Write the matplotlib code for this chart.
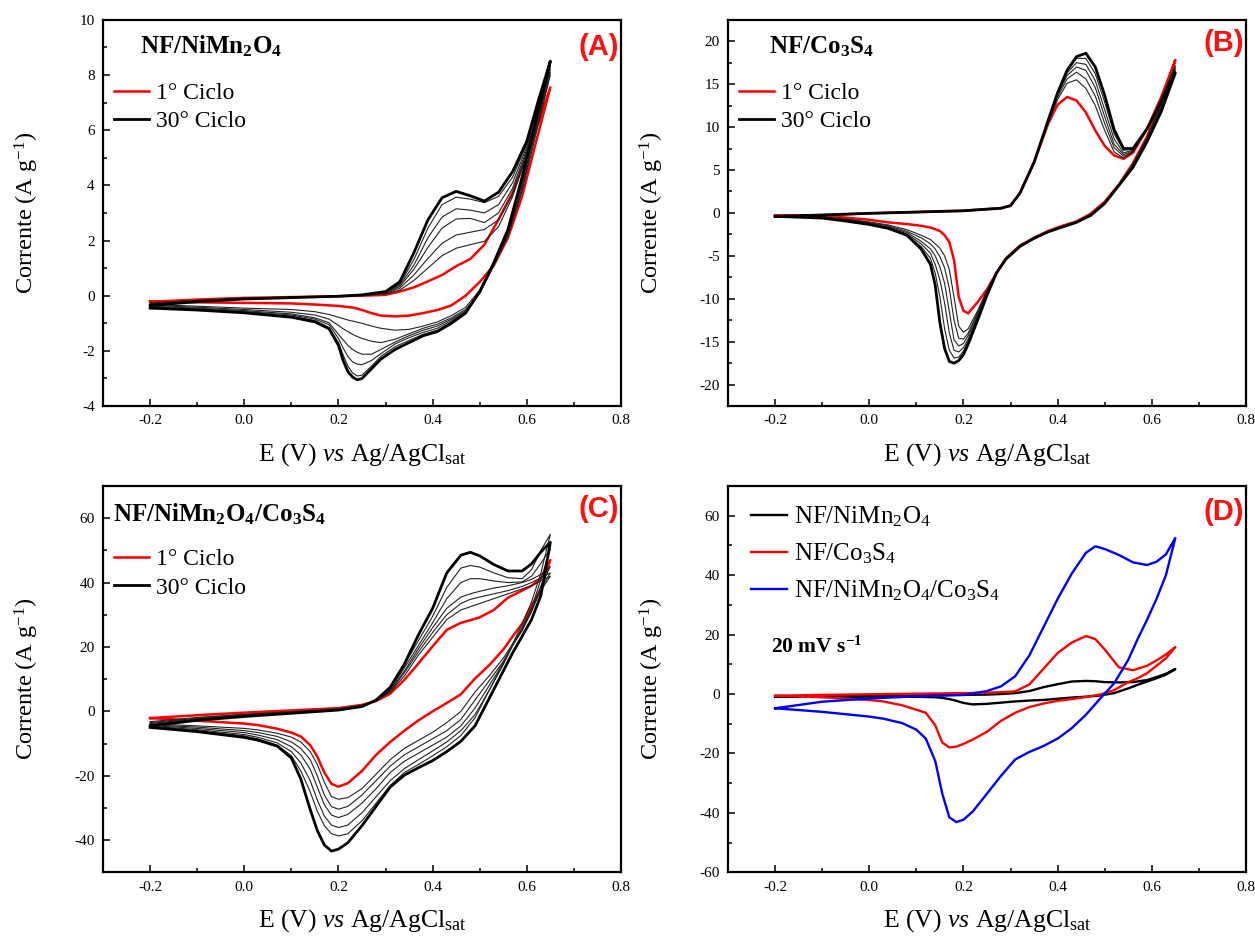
import numpy as np
import matplotlib
matplotlib.use('Agg')
import matplotlib.pyplot as plt
from matplotlib.ticker import MultipleLocator, FormatStrFormatter

plt.rcParams['font.family'] = 'Liberation Serif'
plt.rcParams['mathtext.fontset'] = 'custom'
plt.rcParams['mathtext.rm'] = 'Liberation Serif'
plt.rcParams['mathtext.it'] = 'Liberation Serif:italic'
plt.rcParams['mathtext.bf'] = 'Liberation Serif:bold'
plt.rcParams['axes.unicode_minus'] = False

# ---------------- (A) NF/NiMn2O4, cycles 1 -> 30
a_e_fwd = [-0.2, -0.1, 0.0, 0.1, 0.2, 0.25, 0.3, 0.33, 0.36, 0.39, 0.42, 0.45, 0.48, 0.51, 0.54, 0.57, 0.6, 0.625, 0.65]
a_e_rev = [0.65, 0.62, 0.59, 0.56, 0.53, 0.5, 0.47, 0.44, 0.41, 0.38, 0.35, 0.32, 0.29, 0.27, 0.25, 0.24, 0.23, 0.22,
           0.21, 0.2, 0.18, 0.15, 0.1, 0.0, -0.1, -0.2]
a_first_fwd = [-0.22, -0.14, -0.08, -0.05, -0.02, 0.0, 0.03, 0.15, 0.3, 0.52, 0.75, 1.07, 1.33, 1.85, 2.76, 3.75, 5.1, 6.3, 7.55]
a_first_rev = [7.55, 5.6, 3.6, 2.1, 1.1, 0.5, 0.0, -0.35, -0.52, -0.63, -0.72, -0.75, -0.72, -0.63, -0.52, -0.47, -0.43,
               -0.41, -0.39, -0.37, -0.35, -0.32, -0.28, -0.26, -0.24, -0.22]
a_mid_fwd = [
    [-0.33, -0.21, -0.12, -0.07, -0.02, 0.03, 0.13, 0.42, 1.3, 2.45, 3.3, 3.57, 3.5, 3.37, 3.6, 4.3, 5.5, 7.0, 8.4],
    [-0.32, -0.2, -0.11, -0.06, -0.02, 0.02, 0.12, 0.38, 1.1, 2.1, 2.85, 3.15, 3.1, 3.0, 3.3, 4.1, 5.4, 6.9, 8.3],
    [-0.3, -0.19, -0.1, -0.06, -0.02, 0.02, 0.1, 0.33, 0.95, 1.75, 2.45, 2.78, 2.8, 2.65, 3.0, 3.9, 5.3, 6.8, 8.2],
    [-0.28, -0.18, -0.1, -0.06, -0.02, 0.01, 0.08, 0.27, 0.75, 1.35, 1.9, 2.2, 2.3, 2.4, 2.75, 3.7, 5.2, 6.7, 8.1],
    [-0.26, -0.17, -0.09, -0.05, -0.02, 0.01, 0.06, 0.2, 0.55, 1.0, 1.45, 1.72, 1.85, 1.97, 2.5, 3.6, 5.1, 6.6, 8.0],
]
a_mid_rev = [
    [8.4, 6.3, 4.2, 2.35, 1.15, 0.12, -0.6, -0.95, -1.25, -1.4, -1.62, -1.85, -2.2, -2.55, -2.88, -2.91, -2.8, -2.55,
     -2.15, -1.7, -1.15, -0.9, -0.74, -0.6, -0.5, -0.43],
    [8.3, 6.2, 4.1, 2.3, 1.12, 0.1, -0.58, -0.9, -1.18, -1.33, -1.52, -1.75, -2.1, -2.35, -2.5, -2.48, -2.4, -2.2,
     -1.9, -1.55, -1.05, -0.85, -0.7, -0.57, -0.48, -0.41],
    [8.2, 6.1, 4.0, 2.25, 1.1, 0.08, -0.55, -0.85, -1.1, -1.25, -1.45, -1.68, -1.95, -2.12, -2.12, -2.05, -1.95, -1.8,
     -1.6, -1.4, -0.98, -0.8, -0.66, -0.54, -0.45, -0.38],
    [8.1, 6.0, 3.9, 2.2, 1.1, 0.1, -0.5, -0.8, -1.03, -1.18, -1.38, -1.58, -1.7, -1.65, -1.55, -1.48, -1.4, -1.3,
     -1.2, -1.08, -0.85, -0.7, -0.6, -0.5, -0.42, -0.35],
    [8.0, 5.9, 3.8, 2.15, 1.1, 0.2, -0.42, -0.72, -0.95, -1.1, -1.22, -1.25, -1.18, -1.1, -1.0, -0.96, -0.92, -0.88,
     -0.83, -0.78, -0.68, -0.58, -0.5, -0.45, -0.38, -0.32],
]
a_last_fwd = [-0.35, -0.22, -0.12, -0.07, -0.02, 0.03, 0.15, 0.5, 1.55, 2.75, 3.55, 3.78, 3.62, 3.43, 3.75, 4.5, 5.6, 7.1, 8.5]
a_last_rev = [8.5, 6.4, 4.3, 2.4, 1.2, 0.15, -0.63, -1.0, -1.3, -1.45, -1.7, -1.95, -2.3, -2.65, -3.0, -3.05, -2.95,
              -2.75, -2.35, -1.8, -1.2, -0.95, -0.78, -0.62, -0.52, -0.45]

# ---------------- (B) NF/Co3S4, cycles 1 -> 30
b_e_fwd = [-0.2, -0.1, 0.0, 0.1, 0.2, 0.28, 0.3, 0.32, 0.35, 0.38, 0.4, 0.42, 0.44, 0.46, 0.48, 0.5, 0.52, 0.54, 0.56,
           0.59, 0.62, 0.65]
b_e_rev = [0.65, 0.62, 0.59, 0.56, 0.53, 0.5, 0.47, 0.44, 0.41, 0.38, 0.35, 0.32, 0.29, 0.27, 0.25, 0.23, 0.21, 0.2,
           0.19, 0.18, 0.17, 0.16, 0.15, 0.14, 0.13, 0.11, 0.08, 0.04, 0.0, -0.05, -0.1, -0.2]
b_first_fwd = [-0.35, -0.25, -0.05, 0.1, 0.25, 0.55, 0.85, 2.3, 5.9, 10.4, 12.6, 13.5, 13.1, 11.7, 9.6, 7.8, 6.7, 6.3,
               7.0, 9.8, 13.5, 17.8]
b_first_rev = [17.8, 13.0, 8.9, 5.8, 3.3, 1.3, -0.1, -1.0, -1.5, -2.1, -2.9, -3.8, -5.3, -7.0, -8.9, -10.4, -11.7,
               -11.4, -9.8, -5.5, -3.4, -2.6, -2.1, -1.9, -1.7, -1.5, -1.3, -1.1, -0.8, -0.55, -0.3, -0.3]
b_mid_fwd = [
    [-0.4, -0.25, -0.05, 0.1, 0.25, 0.55, 0.85, 2.3, 5.9, 10.8, 14.0, 16.5, 18.0, 18.0, 16.2, 12.9, 9.2, 7.3, 7.4, 9.8, 13.0, 16.5],
    [-0.4, -0.25, -0.05, 0.1, 0.25, 0.55, 0.85, 2.3, 5.9, 10.8, 13.9, 16.3, 17.5, 17.3, 15.4, 12.0, 8.6, 7.0, 7.3, 9.8, 13.0, 16.6],
    [-0.39, -0.25, -0.05, 0.1, 0.25, 0.55, 0.85, 2.3, 5.9, 10.7, 13.8, 16.0, 17.0, 16.6, 14.6, 11.2, 8.0, 6.8, 7.2, 9.8, 13.1, 16.8],
    [-0.38, -0.25, -0.05, 0.1, 0.25, 0.55, 0.85, 2.3, 5.9, 10.6, 13.5, 15.6, 16.4, 15.6, 13.6, 10.4, 7.6, 6.6, 7.1, 9.8, 13.2, 17.0],
    [-0.37, -0.25, -0.05, 0.1, 0.25, 0.55, 0.85, 2.3, 5.9, 10.5, 13.2, 15.1, 15.5, 14.5, 12.5, 9.6, 7.1, 6.4, 7.1, 9.8, 13.3, 17.2],
]
b_mid_rev = [
    [16.5, 12.0, 8.4, 5.5, 3.2, 1.1, -0.3, -1.1, -1.6, -2.2, -3.0, -3.9, -5.4, -7.1, -9.3, -12.2, -15.0, -16.1, -16.8,
     -16.9, -16.0, -13.5, -9.8, -7.0, -5.3, -3.9, -2.6, -1.75, -1.3, -0.9, -0.58, -0.4],
    [16.6, 12.2, 8.5, 5.5, 3.2, 1.1, -0.3, -1.1, -1.6, -2.2, -3.0, -3.9, -5.4, -7.1, -9.2, -12.0, -14.7, -15.7, -16.2,
     -16.0, -14.0, -10.5, -7.8, -6.0, -4.7, -3.6, -2.45, -1.7, -1.25, -0.85, -0.55, -0.38],
    [16.8, 12.3, 8.6, 5.6, 3.2, 1.1, -0.3, -1.1, -1.6, -2.2, -3.0, -3.9, -5.4, -7.1, -9.2, -11.8, -14.3, -15.2, -15.5,
     -14.8, -11.5, -8.2, -6.3, -5.0, -4.2, -3.3, -2.3, -1.6, -1.2, -0.8, -0.52, -0.37],
    [17.0, 12.5, 8.7, 5.6, 3.2, 1.1, -0.3, -1.1, -1.6, -2.2, -3.0, -3.9, -5.4, -7.0, -9.1, -11.6, -14.0, -14.7, -14.6,
     -12.5, -8.8, -6.4, -5.1, -4.2, -3.6, -2.9, -2.15, -1.5, -1.12, -0.75, -0.48, -0.35],
    [17.2, 12.7, 8.8, 5.7, 3.3, 1.2, -0.2, -1.05, -1.55, -2.15, -2.95, -3.85, -5.4, -7.0, -9.0, -11.4, -13.5, -13.9,
     -13.2, -9.8, -6.6, -5.0, -4.1, -3.6, -3.1, -2.6, -1.95, -1.4, -1.05, -0.7, -0.45, -0.33],
]
b_last_fwd = [-0.4, -0.25, -0.05, 0.1, 0.25, 0.55, 0.85, 2.3, 5.9, 10.8, 14.0, 16.6, 18.2, 18.6, 17.0, 13.7, 9.7, 7.5,
              7.5, 9.8, 13.0, 16.3]
b_last_rev = [16.3, 11.8, 8.3, 5.3, 3.2, 1.1, -0.3, -1.1, -1.65, -2.2, -2.95, -3.9, -5.4, -7.0, -9.6, -12.5, -15.3,
              -16.5, -17.2, -17.5, -17.3, -15.8, -12.8, -8.4, -6.0, -4.2, -2.6, -1.8, -1.35, -0.95, -0.6, -0.4]

# ---------------- (C) NF/NiMn2O4/Co3S4, cycles 1 -> 30
c_e_fwd = [-0.2, -0.1, 0.0, 0.1, 0.2, 0.25, 0.28, 0.31, 0.34, 0.37, 0.4, 0.43, 0.46, 0.48, 0.5, 0.53, 0.56, 0.59, 0.61,
           0.63, 0.65]
c_e_rev = [0.65, 0.63, 0.61, 0.59, 0.57, 0.55, 0.52, 0.49, 0.46, 0.43, 0.4, 0.37, 0.34, 0.31, 0.28, 0.25, 0.22, 0.2,
           0.185, 0.17, 0.155, 0.14, 0.12, 0.1, 0.07, 0.03, 0.0, -0.1, -0.2]
c_first_fwd = [-2.1, -1.2, -0.4, 0.3, 1.0, 2.0, 3.2, 5.5, 9.8, 14.9, 20.2, 25.3, 27.5, 28.3, 29.2, 31.5, 35.3, 37.5,
               39.0, 41.3, 47.0]
c_first_rev = [47.0, 38.0, 32.8, 27.2, 23.3, 19.2, 14.3, 10.2, 5.3, 2.6, 0.0, -2.8, -6.0, -9.5, -13.5, -18.5, -22.3,
               -23.4, -22.5, -19.0, -14.0, -10.5, -7.8, -6.6, -5.4, -4.3, -3.8, -2.9, -2.1]
c_mid_fwd = [
    [-4.3, -2.7, -1.5, -0.5, 0.4, 1.5, 3.3, 7.0, 14.5, 22.0, 29.5, 38.5, 44.5, 45.3, 44.8, 43.0, 41.5, 41.2, 44.0, 50.0, 55.0],
    [-4.1, -2.5, -1.3, -0.4, 0.5, 1.6, 3.3, 6.8, 13.5, 20.5, 27.5, 35.0, 40.0, 41.2, 41.2, 40.5, 40.0, 40.2, 42.0, 46.0, 50.5],
    [-3.8, -2.3, -1.2, -0.3, 0.6, 1.7, 3.3, 6.5, 12.5, 19.5, 26.0, 32.0, 35.5, 36.5, 37.3, 38.3, 39.0, 40.0, 41.0, 42.5, 45.0],
    [-3.5, -2.1, -1.0, -0.2, 0.7, 1.8, 3.3, 6.2, 12.0, 18.5, 24.5, 30.0, 33.5, 34.8, 35.5, 36.5, 37.5, 38.8, 40.0, 41.5, 43.0],
    [-3.2, -1.9, -0.9, -0.1, 0.8, 1.9, 3.3, 6.0, 11.0, 17.5, 23.0, 28.5, 31.5, 32.5, 33.5, 35.0, 36.5, 38.0, 39.0, 40.5, 42.0],
]
c_mid_rev = [
    [55.0, 43.0, 34.0, 27.0, 21.0, 15.0, 6.5, -2.0, -7.5, -11.0, -13.8, -16.5, -19.0, -23.0, -28.5, -34.0, -38.0,
     -38.7, -38.0, -35.5, -31.0, -25.0, -18.5, -13.8, -10.5, -8.6, -7.6, -6.0, -4.8],
    [50.5, 41.0, 32.0, 26.0, 20.5, 14.5, 6.5, -1.0, -6.0, -9.5, -12.3, -15.0, -17.8, -21.5, -26.5, -31.5, -35.3,
     -36.1, -35.3, -32.5, -27.5, -21.5, -16.0, -12.5, -9.8, -8.1, -7.2, -5.7, -4.6],
    [45.0, 39.0, 31.0, 25.5, 20.5, 15.0, 8.0, 1.0, -4.5, -8.0, -10.5, -13.0, -15.5, -19.0, -24.0, -28.5, -32.0,
     -33.0, -32.2, -29.0, -23.5, -18.0, -13.5, -11.0, -8.8, -7.4, -6.6, -5.3, -4.4],
    [43.0, 38.0, 31.0, 25.0, 20.5, 15.5, 9.5, 3.5, -2.5, -6.0, -8.5, -11.0, -13.5, -17.0, -21.5, -26.0, -29.5,
     -30.4, -29.6, -26.0, -20.0, -15.0, -11.5, -9.5, -7.8, -6.6, -6.0, -4.9, -4.2],
    [42.0, 37.5, 31.5, 25.5, 21.0, 16.5, 11.0, 6.0, 0.0, -3.5, -6.5, -9.0, -11.5, -15.0, -19.5, -24.0, -26.8,
     -27.3, -26.5, -22.0, -16.5, -12.5, -9.5, -8.0, -6.8, -5.8, -5.3, -4.5, -3.9],
]
c_last_fwd = [-4.5, -2.8, -1.6, -0.6, 0.4, 1.5, 3.5, 7.5, 14.7, 23.8, 32.0, 43.0, 48.5, 49.4, 48.3, 45.6, 43.6, 43.6,
              45.8, 49.5, 52.5]
c_last_rev = [52.5, 36.0, 28.5, 23.3, 18.2, 12.5, 4.0, -4.5, -9.3, -12.5, -15.3, -17.5, -19.8, -23.5, -29.5, -35.5,
              -40.8, -42.8, -43.4, -41.5, -37.0, -30.5, -21.0, -14.5, -10.8, -9.0, -8.1, -6.3, -5.0]

# ---------------- (D) comparison at 20 mV/s
d_e_fwd = c_e_fwd
d_e_rev = c_e_rev
d_nimn_fwd = [-0.9, -0.75, -0.6, -0.45, -0.3, -0.2, 0.0, 0.3, 1.0, 2.3, 3.3, 4.2, 4.4, 4.3, 4.0, 3.9, 4.0, 4.7, 5.7, 6.8, 8.4]
d_nimn_rev = [8.4, 6.5, 5.3, 4.2, 3.1, 1.9, 0.3, -0.5, -0.9, -1.2, -1.6, -2.0, -2.2, -2.5, -2.9, -3.3, -3.5, -3.0,
              -2.3, -1.7, -1.3, -1.1, -1.0, -0.95, -0.9, -0.9, -0.9, -0.9, -0.9]
d_co_fwd = [-0.6, -0.3, -0.1, 0.1, 0.3, 0.45, 0.6, 0.9, 3.2, 8.5, 13.8, 17.3, 19.5, 18.5, 15.0, 9.0, 8.0, 9.5, 11.3, 13.3, 15.8]
d_co_rev = [15.8, 12.0, 9.5, 7.0, 5.3, 4.0, 1.3, -0.2, -1.0, -1.7, -2.3, -3.2, -4.4, -6.3, -9.0, -12.7, -15.3, -16.8,
            -17.7, -18.0, -16.3, -10.5, -6.3, -5.3, -3.8, -2.5, -2.0, -1.1, -0.6]
d_hyb_fwd = [-4.8, -2.6, -1.5, -0.8, -0.3, 1.0, 2.6, 6.0, 13.0, 22.5, 32.0, 40.5, 47.5, 49.7, 48.8, 46.8, 44.3, 43.4,
             44.5, 47.0, 52.5]
d_hyb_rev = [52.5, 40.0, 32.0, 25.0, 18.5, 11.5, 3.6, -1.6, -7.0, -11.5, -15.0, -17.5, -19.5, -22.0, -27.5, -33.5,
             -39.5, -42.3, -43.1, -41.5, -33.5, -22.5, -15.0, -12.0, -9.8, -8.3, -7.6, -6.0, -4.8]


def cv(ax, e_fwd, e_rev, i_fwd, i_rev, **kw):
    e = np.r_[e_fwd, e_rev]
    i = np.r_[i_fwd, i_rev]
    return ax.plot(e, i, **kw)[0]


def style(ax, ylim, ymaj, ymin):
    ax.set_xlim(-0.3, 0.8)
    ax.set_ylim(*ylim)
    ax.xaxis.set_major_locator(MultipleLocator(0.2))
    ax.xaxis.set_minor_locator(MultipleLocator(0.1))
    ax.xaxis.set_major_formatter(FormatStrFormatter('%.1f'))
    ax.yaxis.set_major_locator(MultipleLocator(ymaj))
    ax.yaxis.set_minor_locator(MultipleLocator(ymin))
    ax.yaxis.set_major_formatter(FormatStrFormatter('%g'))
    ax.tick_params(which='both', direction='in', top=False, right=False, labelsize=11, width=1.1)
    ax.tick_params(which='major', length=5, pad=6)
    ax.tick_params(which='minor', length=3)
    for s in ax.spines.values():
        s.set_linewidth(1.6)
    ax.set_xlabel(r'E (V) $\mathit{vs}$ Ag/AgCl$_{\mathrm{sat}}$', fontsize=18.5)
    ax.set_ylabel(r'Corrente (A g$^{\mathrm{-1}}$)', fontsize=17.5)
    ax.xaxis.set_label_coords(0.5, -0.09)
    ax.yaxis.set_label_coords(-0.12, 0.5)


def tag(ax, s, y):
    ax.text(0.996, y, s, transform=ax.transAxes, ha='right', va='baseline', fontsize=21,
            fontweight='bold', color='#ff1010', family='Liberation Sans')


def cycles(ax, e_fwd, e_rev, first_fwd, first_rev, mid_fwd, mid_rev, last_fwd, last_rev):
    h1 = cv(ax, e_fwd, e_rev, first_fwd, first_rev, color='#ff0000', lw=1.8)
    for f, r in zip(mid_fwd, mid_rev):
        cv(ax, e_fwd, e_rev, f, r, color='#222222', lw=0.8)
    h30 = cv(ax, e_fwd, e_rev, last_fwd, last_rev, color='black', lw=2.0)
    ax.legend([h1, h30], ['1° Ciclo', '30° Ciclo'], loc='upper left', bbox_to_anchor=(0.022, 0.838),
              frameon=False, fontsize=17, handlelength=1.48, handletextpad=0.3, labelspacing=0.3,
              borderpad=0, borderaxespad=0)


fig = plt.figure(figsize=(12.55, 9.4), dpi=100)
axA = fig.add_axes([0.0821, 0.568, 0.4127, 0.411])
axB = fig.add_axes([0.5801, 0.568, 0.4127, 0.411])
axC = fig.add_axes([0.0821, 0.072, 0.4127, 0.411])
axD = fig.add_axes([0.5801, 0.072, 0.4127, 0.411])

# A
cycles(axA, a_e_fwd, a_e_rev, a_first_fwd, a_first_rev, a_mid_fwd, a_mid_rev, a_last_fwd, a_last_rev)
style(axA, (-4, 10), 2, 1)
axA.text(0.071, 0.912, r'NF/NiMn$_\mathbf{2}$O$_\mathbf{4}$', transform=axA.transAxes,
         fontsize=18, fontweight='bold', va='baseline')
tag(axA, '(A)', 0.91)

# B
cycles(axB, b_e_fwd, b_e_rev, b_first_fwd, b_first_rev, b_mid_fwd, b_mid_rev, b_last_fwd, b_last_rev)
style(axB, (-22.5, 22.5), 5, 2.5)
axB.text(0.079, 0.914, r'NF/Co$_\mathbf{3}$S$_\mathbf{4}$', transform=axB.transAxes,
         fontsize=18, fontweight='bold', va='baseline')
tag(axB, '(B)', 0.918)

# C
cycles(axC, c_e_fwd, c_e_rev, c_first_fwd, c_first_rev, c_mid_fwd, c_mid_rev, c_last_fwd, c_last_rev)
style(axC, (-50, 70), 20, 10)
axC.text(0.019, 0.908, r'NF/NiMn$_\mathbf{2}$O$_\mathbf{4}$/Co$_\mathbf{3}$S$_\mathbf{4}$',
         transform=axC.transAxes, fontsize=18, fontweight='bold', va='baseline')
tag(axC, '(C)', 0.92)

# D
h_n = cv(axD, d_e_fwd, d_e_rev, d_nimn_fwd, d_nimn_rev, color='black', lw=1.7)
h_c = cv(axD, d_e_fwd, d_e_rev, d_co_fwd, d_co_rev, color='#ff0000', lw=1.7)
h_h = cv(axD, d_e_fwd, d_e_rev, d_hyb_fwd, d_hyb_rev, color='#0000ff', lw=1.7)
style(axD, (-60, 70), 20, 10)
axD.legend([h_n, h_c, h_h],
           [r'NF/NiMn$_2$O$_4$', r'NF/Co$_3$S$_4$', r'NF/NiMn$_2$O$_4$/Co$_3$S$_4$'],
           loc='upper left', bbox_to_anchor=(0.045, 0.952), frameon=False, fontsize=18,
           handlelength=1.44, handletextpad=0.25, labelspacing=0.5, borderpad=0, borderaxespad=0)
axD.text(0.083, 0.568, r'20 mV s$^{\mathbf{-1}}$', transform=axD.transAxes,
         fontsize=15.5, fontweight='bold', va='baseline')
tag(axD, '(D)', 0.912)

fig.savefig('out.png', dpi=100)
